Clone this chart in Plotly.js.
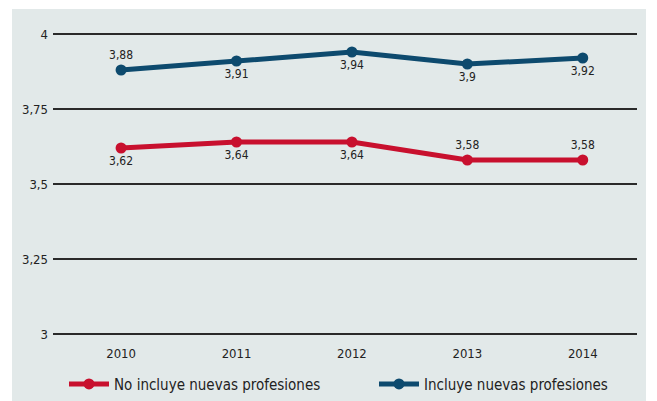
<!DOCTYPE html>
<html><head><meta charset="utf-8">
<script src="https://cdn.plot.ly/plotly-3.0.1.min.js"></script>
<style>html,body{margin:0;padding:0;background:#fff}#c{width:657px;height:401px}</style>
</head><body><div id="c"></div>
<script>
const years = [2010, 2011, 2012, 2013, 2014];
const noIncluye = [3.62, 3.64, 3.64, 3.58, 3.58];
const incluye = [3.88, 3.91, 3.94, 3.9, 3.92];
const yTicks = [3, 3.25, 3.5, 3.75, 4];
const nameNo = 'No incluye nuevas profesiones';
const nameSi = 'Incluye nuevas profesiones';
const posNo = ['bottom center','bottom center','bottom center','top center','top center'];
const posSi = ['top center','bottom center','bottom center','bottom center','bottom center'];
const fmt = v => String(v).replace('.', ',');
const FONT = 'DejaVu Sans Condensed, Liberation Sans Narrow, Arial Narrow, sans-serif';

const traces = [
  {x: years, y: noIncluye, name: nameNo, mode: 'lines+markers+text', type: 'scatter',
   line: {color: '#c8102e', width: 5}, marker: {color: '#c8102e', size: 11},
   text: noIncluye.map(fmt), textposition: posNo, textfont: {size: 12, color: '#222', family: FONT},
   cliponaxis: false, legend: 'legend'},
  {x: years, y: incluye, name: nameSi, mode: 'lines+markers+text', type: 'scatter',
   line: {color: '#0d4a6e', width: 5}, marker: {color: '#0d4a6e', size: 11},
   text: incluye.map(fmt), textposition: posSi, textfont: {size: 12, color: '#222', family: FONT},
   cliponaxis: false, legend: 'legend2'}
];

const legBase = {orientation: 'h', xref: 'container', yref: 'container', y: 0.042,
  xanchor: 'left', yanchor: 'middle', font: {size: 15, color: '#222', family: FONT},
  bgcolor: 'rgba(0,0,0,0)', itemwidth: 40};

const layout = {
  width: 657, height: 401,
  margin: {l: 53, r: 20, t: 31, b: 64},
  paper_bgcolor: '#ffffff', plot_bgcolor: 'rgba(0,0,0,0)',
  separators: ',.',
  font: {family: FONT, color: '#222'},
  showlegend: true,
  legend: Object.assign({}, legBase, {x: 64 / 657}),
  legend2: Object.assign({}, legBase, {x: 374 / 657}),
  xaxis: {range: [2009.41, 2014.47], tickvals: years, ticktext: years.map(String),
          showgrid: false, zeroline: false, showline: false, ticks: '',
          ticklabelstandoff: 7, tickfont: {size: 13, color: '#222'}},
  yaxis: {range: [2.99, 4.01], tickvals: yTicks, ticktext: yTicks.map(fmt),
          showgrid: true, gridcolor: '#2a2a2a', gridwidth: 1.5, zeroline: false,
          showline: false, ticks: '', ticklabelstandoff: 4,
          tickfont: {size: 13, color: '#222'}},
  shapes: [{type: 'rect', xref: 'paper', yref: 'paper', x0: -0.0702, x1: 1.0154,
            y0: -64 / 306 - 0.01, y1: 1 + 22 / 306, fillcolor: '#e2e9e9', line: {width: 0}, layer: 'below'}]
};
Plotly.newPlot('c', traces, layout, {displayModeBar: false, staticPlot: true});
</script></body></html>
